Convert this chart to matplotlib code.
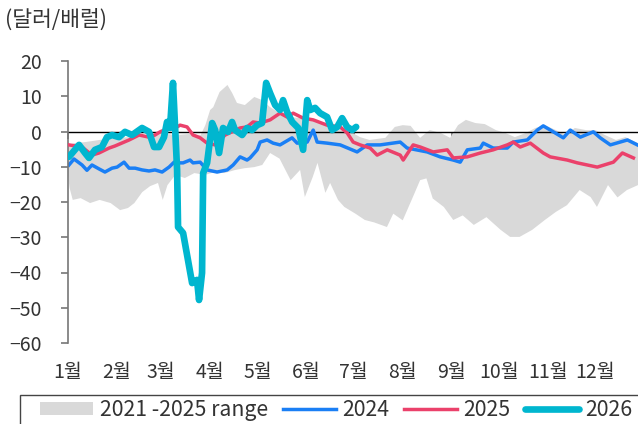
import numpy as np
import matplotlib.pyplot as plt
from matplotlib.patches import Rectangle

plt.rcParams['font.family'] = ['Noto Sans CJK KR', 'DejaVu Sans']
plt.rcParams['axes.unicode_minus'] = True

months = ['1월', '2월', '3월', '4월', '5월', '6월', '7월', '8월', '9월', '10월', '11월', '12월']
month_days = [0, 31, 59, 90, 120, 151, 181, 212, 243, 273, 304, 334]

# 2021-2025 range (upper / lower edge), day of year -> $/bbl
rng_hi_d = [0, 4, 11, 20, 30, 39, 49, 58, 68, 77, 84, 87, 90, 92, 96, 101, 104, 107, 112, 118,
            123, 128, 134, 141, 147, 153, 160, 166, 172, 179, 185, 191, 201, 207, 212, 217, 223,
            229, 236, 242, 247, 252, 258, 264, 271, 277, 283, 290, 296, 302, 309, 315, 321, 328,
            334, 340, 347, 353, 361]
rng_hi_v = [-3.8, -3.3, -3.0, -2.4, -1.8, -1.6, -1.0, -0.4, -1.0, -0.7, -1.0, 1.8, 6.1, 6.9, 11.2,
            13.2, 10.9, 8.1, 7.5, 9.8, 8.9, 6.9, 5.2, 4.1, 3.8, 3.3, 2.7, 1.8, 1.0, -0.1, -1.6, -2.4,
            -1.8, 1.3, 1.8, 1.6, -1.8, 0.4, -0.4, -1.8, 1.8, 3.3, 2.4, 2.1, 0.4, -0.4, -1.6, -0.4,
            1.0, 1.8, 0.4, -1.0, 1.0, 0.4, 0.4, -1.0, -2.4, -1.6, -3.3]
rng_lo_d = [0, 1, 3, 8, 14, 20, 27, 33, 38, 42, 47, 52, 57, 60, 63, 68, 74, 80, 87, 93, 99, 106,
            112, 118, 123, 128, 134, 141, 147, 150, 155, 158, 163, 166, 171, 175, 182, 188, 194,
            202, 206, 212, 219, 223, 227, 231, 238, 244, 250, 257, 265, 274, 280, 286, 294, 302,
            309, 316, 324, 331, 335, 342, 348, 354, 361]
rng_lo_v = [-12.3, -16.0, -19.4, -18.9, -20.3, -19.4, -20.3, -22.3, -21.7, -20.3, -17.2, -15.5,
            -14.6, -19.4, -15.2, -12.3, -13.2, -11.8, -12.3, -11.5, -11.8, -10.9, -10.4, -10.1,
            -9.5, -6.1, -7.7, -13.8, -10.9, -18.6, -12.9, -8.9, -17.4, -14.6, -19.4, -21.4, -23.3,
            -25.1, -25.8, -27.1, -23.3, -25.2, -18.0, -13.8, -13.3, -19.0, -21.4, -25.1, -23.8,
            -26.5, -24.3, -27.9, -29.9, -29.9, -27.9, -25.1, -22.8, -20.9, -16.6, -18.6, -21.4,
            -15.2, -18.7, -16.6, -15.2]

d2024 = [0.6, 3.8, 8.9, 12, 15.2, 19.6, 23.4, 27.9, 31.1, 35.5, 38.7, 42.5, 46.9, 51.3, 55.1,
         59.6, 64, 67.2, 69.1, 72.9, 77.3, 79.2, 83.7, 88.1, 94.4, 100.8, 104.6, 109, 113.4, 115.3,
         119.8, 121.7, 126.1, 129.9, 134.3, 141.9, 145.1, 151.5, 155.3, 157.8, 164.1, 172.4,
         183.1, 189.5, 197.7, 210.4, 214.8, 227.5, 235.7, 244, 248.4, 252.9, 261.1, 263, 269.3,
         278.2, 282, 290.9, 297.2, 301, 307.4, 313.7, 318.1, 324.5, 332.7, 337.1, 343.5, 354.3,
         360.6]
v2024 = [-9.5, -7.8, -9.5, -11.0, -9.5, -10.6, -11.5, -10.4, -10.1, -8.7, -10.4, -10.4, -10.9,
         -11.2, -10.9, -11.5, -10.1, -8.7, -8.9, -8.9, -8.1, -8.9, -8.7, -10.9, -11.5, -10.9, -9.5,
         -7.2, -8.1, -7.5, -5.2, -3.0, -2.4, -3.3, -3.8, -1.8, -3.3, -3.0, 0.4, -3.0, -3.3, -3.8,
         -5.8, -3.8, -3.8, -3.0, -4.7, -5.8, -7.2, -8.1, -8.7, -5.2, -4.7, -3.3, -4.7, -4.7, -3.0,
         -2.4, 0.4, 1.6, -0.1, -1.8, 0.4, -1.6, -0.1, -1.8, -3.8, -2.4, -3.8]

d2025 = [0.6, 8.9, 15.2, 19.6, 26, 29.8, 38.7, 45, 51.3, 55.1, 58.3, 64, 69.1, 71, 75.4, 79.2,
         83.7, 88.1, 93.2, 99.5, 109, 113.4, 117.2, 121.7, 128, 134.3, 138.8, 142.6, 148.9, 155.3,
         164.1, 172.4, 176.8, 180.6, 185, 191.4, 195.8, 202.2, 210.4, 212.3, 218.6, 223.1, 231.3,
         240.2, 244, 252.9, 261.1, 269.3, 278.2, 282, 286.4, 292.8, 301, 305.4, 316.2, 322.6,
         335.2, 345.4, 351.1, 358.1]
v2025 = [-3.8, -4.4, -6.7, -6.1, -4.7, -4.1, -2.4, -1.0, -1.6, -1.0, -0.1, 1.0, 1.3, 1.8, 1.3,
         -1.0, -1.8, -3.3, -3.8, -1.0, 1.0, 1.3, 2.7, 2.4, 3.3, 5.2, 4.1, 5.2, 3.8, 3.3, 1.8, 1.3,
         -0.4, -3.0, -3.8, -4.7, -6.7, -5.2, -6.7, -8.1, -3.8, -4.4, -5.8, -5.2, -7.5, -7.2, -6.1,
         -5.2, -3.8, -3.0, -4.4, -3.3, -6.1, -7.2, -8.1, -8.9, -10.1, -8.7, -6.1, -7.5]

d2026 = [0.6, 7, 10.8, 13.3, 17.1, 21.5, 24.7, 27.9, 32.3, 36.1, 40.6, 46.9, 51.3, 54.5, 57.7,
         60.8, 62.7, 64.6, 66.5, 69.1, 69.7, 72.9, 76, 78.6, 81.7, 83, 84.9, 85.6, 88.1, 91.3,
         93.2, 95.7, 98.2, 101.4, 103.9, 105.8, 110.3, 113.4, 116.6, 119.8, 122.9, 125.5, 128,
         131.2, 134.3, 136.2, 138.8, 142, 145.8, 148.9, 151.5, 153.4, 156.5, 159.7, 164.1, 167.3,
         170.5, 173.6, 176.8, 180, 182.5]
v2026 = [-7.2, -3.8, -6.1, -7.5, -5.2, -4.4, -1.6, -1.0, -1.6, -0.1, -1.0, 1.0, -0.1, -4.4, -4.4,
         -1.6, 2.7, 1.0, 13.8, -10.9, -27.1, -28.8, -36.5, -43.0, -42.1, -47.8, -40.1, -11.8, -8.9,
         2.4, 0.4, -6.1, 1.0, -0.1, 2.7, 0.4, -1.0, 1.0, 0.4, 1.8, 2.4, 13.8, 10.9, 7.5, 6.1, 8.9,
         5.5, 2.7, 1.0, -5.2, 8.9, 6.1, 6.7, 5.2, 4.1, 0.4, 1.3, 3.8, 1.3, 0.4, 1.3]

txt = '#333333'
fig = plt.figure(figsize=(6.38, 4.24), dpi=100)
ax = fig.add_axes([68 / 638, 1 - 343 / 424, 1 - 68 / 638, (343 - 61) / 424])

ax.fill(rng_hi_d + rng_lo_d[::-1], rng_hi_v + rng_lo_v[::-1], color='#d9d9d9', lw=0,
        label='2021 -2025 range', zorder=1)
ax.axhline(0, color='black', lw=1, zorder=1.5)
ax.plot(d2024, v2024, color='#1a7ff5', lw=2.5, label='2024', zorder=2)
ax.plot(d2025, v2025, color='#eb416b', lw=2.5, label='2025', zorder=3)
ax.plot(d2026, v2026, color='#00b6cf', lw=4.8, label='2026', zorder=4,
        solid_joinstyle='round', solid_capstyle='round')

ax.set_xlim(0, 361)
ax.set_ylim(-60, 20)
ax.set_yticks(range(-60, 21, 10))
ax.set_yticklabels([str(v).replace('-', '\u2212') for v in range(-60, 21, 10)])
ax.set_xticks(month_days)
ax.set_xticklabels(months)
ax.tick_params(axis='x', length=0, pad=14, labelsize=14, labelcolor=txt)
ax.tick_params(axis='y', length=5, width=1.2, color='#777777', pad=14, labelsize=14,
               labelcolor=txt)
for s in ['top', 'right', 'bottom']:
    ax.spines[s].set_visible(False)
ax.spines['left'].set_color('#777777')
ax.spines['left'].set_linewidth(1.2)

# month ticks on the zero line
sec = ax.secondary_xaxis(0, transform=ax.transData)
sec.set_xticks(month_days, labels=[''] * 12)
sec.tick_params(length=5, width=1.2, color='#777777')
sec.spines['bottom'].set_visible(False)

fig.text(5 / 638, 1 - 20 / 424, '(달러/배럴)', fontsize=15.5, color=txt, va='center', ha='left')

fig.legend(loc='center left', bbox_to_anchor=(40 / 638, 1 - 410 / 424), ncol=4,
           frameon=False, fontsize=15.3, labelcolor=txt, borderpad=0, borderaxespad=0,
           handlelength=2.5, handleheight=0.55, handletextpad=0.3, columnspacing=0.7)
fig.add_artist(Rectangle((20 / 638, -0.2), 1.2, 0.2 + 1 - 395 / 424, transform=fig.transFigure,
                         fill=False, ec='#444444', lw=1))

fig.savefig('out.png', dpi=100)
